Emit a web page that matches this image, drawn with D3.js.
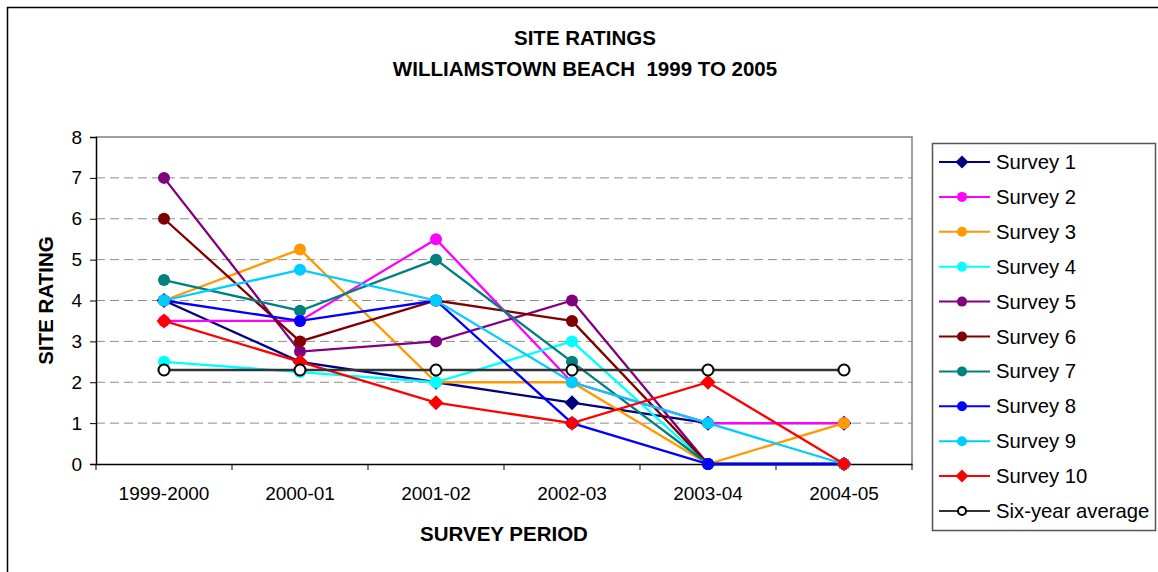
<!DOCTYPE html>
<html>
<head>
<meta charset="utf-8">
<script src="https://cdn.jsdelivr.net/npm/d3@7"></script>
<style>
  html, body { margin: 0; padding: 0; background: #fff; }
  svg { display: block; font-family: "Liberation Sans", Arial, sans-serif; }
</style>
</head>
<body>
<svg id="chart" width="1158" height="572"></svg>
<script>
// Survey periods along the x axis
const periods = ["1999-2000", "2000-01", "2001-02", "2002-03", "2003-04", "2004-05"];

// Site ratings per survey, one value per period
const survey1  = [4,   2.5,  2,   1.5, 1, 1];
const survey2  = [3.5, 3.5,  5.5, 2,   1, 1];
const survey3  = [4,   5.25, 2,   2,   0, 1];
const survey4  = [2.5, 2.25, 2,   3,   0, 0];
const survey5  = [7,   2.75, 3,   4,   0, 0];
const survey6  = [6,   3,    4,   3.5, 0, 0];
const survey7  = [4.5, 3.75, 5,   2.5, 0, 0];
const survey8  = [4,   3.5,  4,   1,   0, 0];
const survey9  = [4,   4.75, 4,   2,   1, 0];
const survey10 = [3.5, 2.5,  1.5, 1,   2, 0];
const sixYearAverage = [2.3, 2.3, 2.3, 2.3, 2.3, 2.3];

const seriesNames = ["Survey 1", "Survey 2", "Survey 3", "Survey 4", "Survey 5",
                     "Survey 6", "Survey 7", "Survey 8", "Survey 9", "Survey 10",
                     "Six-year average"];
const yTicks = [0, 1, 2, 3, 4, 5, 6, 7, 8];

// Styling per series: line colour, marker shape
const styles = [
  { color: "#000080", marker: "diamond" },
  { color: "#FF00FF", marker: "circle" },
  { color: "#FF9900", marker: "circle" },
  { color: "#00FFFF", marker: "circle" },
  { color: "#800080", marker: "circle" },
  { color: "#800000", marker: "circle" },
  { color: "#008080", marker: "circle" },
  { color: "#0000FF", marker: "circle" },
  { color: "#00CCFF", marker: "circle" },
  { color: "#FF0000", marker: "diamond" },
  { color: "#333333", marker: "open" }
];

const seriesValues = [survey1, survey2, survey3, survey4, survey5, survey6,
                      survey7, survey8, survey9, survey10, sixYearAverage];
const series = seriesNames.map((name, i) => ({ name, values: seriesValues[i], ...styles[i] }));

const svg = d3.select("#chart");

// Outer chart frame
svg.append("rect")
  .attr("x", 7.5).attr("y", 7.5).attr("width", 1160).attr("height", 580)
  .attr("fill", "#fff").attr("stroke", "#000").attr("stroke-width", 1.5);

const plot = { left: 96, right: 912, top: 137, bottom: 464 };

const x = d3.scaleBand().domain(periods).range([plot.left, plot.right]).padding(0);
const y = d3.scaleLinear().domain([0, 8]).range([plot.bottom, plot.top]);
const cx = d => x(d) + x.bandwidth() / 2;

// Horizontal dashed gridlines
svg.append("g")
  .selectAll("line")
  .data(yTicks.filter(t => t > 0 && t < 8))
  .join("line")
  .attr("x1", plot.left).attr("x2", plot.right)
  .attr("y1", d => y(d)).attr("y2", d => y(d))
  .attr("stroke", "#8c8c8c").attr("stroke-width", 1)
  .attr("stroke-dasharray", "9,5");

// Plot area frame, top and right edges
svg.append("path")
  .attr("d", `M${plot.left},${y(8)}H${plot.right}V${plot.bottom}`)
  .attr("fill", "none").attr("stroke", "#808080").attr("stroke-width", 1.5);

// Y axis
const yAxis = svg.append("g")
  .attr("transform", `translate(${plot.left},0)`)
  .call(d3.axisLeft(y).tickValues(yTicks).tickSize(6).tickPadding(8).tickFormat(d3.format("d")));
yAxis.select(".domain").attr("stroke", "#000").attr("stroke-width", 1.5);
yAxis.selectAll(".tick line").attr("stroke", "#000");
yAxis.selectAll("text").attr("font-size", 19).attr("fill", "#000")
  .attr("font-family", "'Liberation Sans', Arial, sans-serif");

// X axis: ticks at category boundaries
const xAxis = svg.append("g")
  .attr("transform", `translate(0,${plot.bottom})`)
  .call(d3.axisBottom(x).tickSize(0).tickPadding(0));
xAxis.select(".domain").attr("stroke", "#000").attr("stroke-width", 1.5);
xAxis.selectAll("text")
  .attr("y", 36)
  .attr("dy", 0)
  .attr("font-size", 19).attr("fill", "#000")
  .attr("font-family", "'Liberation Sans', Arial, sans-serif");
const boundaries = periods.map(p => x(p)).concat([plot.right]);
svg.append("g")
  .selectAll("line")
  .data(boundaries)
  .join("line")
  .attr("x1", d => d).attr("x2", d => d)
  .attr("y1", plot.bottom).attr("y2", plot.bottom + 6)
  .attr("stroke", "#000").attr("stroke-width", 1);

// Titles
svg.append("text")
  .attr("x", 585).attr("y", 45)
  .attr("text-anchor", "middle").attr("font-weight", "bold").attr("font-size", 20.5)
  .text("SITE RATINGS");
svg.append("text")
  .attr("x", 585).attr("y", 76)
  .attr("text-anchor", "middle").attr("font-weight", "bold").attr("font-size", 20.5)
  .attr("xml:space", "preserve")
  .style("white-space", "pre")
  .text("WILLIAMSTOWN BEACH  1999 TO 2005");
svg.append("text")
  .attr("x", (plot.left + plot.right) / 2).attr("y", 541)
  .attr("text-anchor", "middle").attr("font-weight", "bold").attr("font-size", 20.5)
  .text("SURVEY PERIOD");
svg.append("text")
  .attr("transform", `translate(53,${(plot.top + plot.bottom) / 2}) rotate(-90)`)
  .attr("text-anchor", "middle").attr("font-weight", "bold").attr("font-size", 20.5)
  .text("SITE RATING");

// Marker drawing helper
function drawMarker(g, style, px, py, size, openSize) {
  if (style.marker === "diamond") {
    const s = size + 1.5;
    g.append("path")
      .attr("d", `M${px},${py - s}L${px + s},${py}L${px},${py + s}L${px - s},${py}Z`)
      .attr("fill", style.color);
  } else if (style.marker === "circle") {
    g.append("circle").attr("cx", px).attr("cy", py).attr("r", size)
      .attr("fill", style.color);
  } else {
    g.append("circle").attr("cx", px).attr("cy", py).attr("r", openSize)
      .attr("fill", "#fff").attr("stroke", "#000").attr("stroke-width", 2);
  }
}

// Series lines and markers (later series drawn on top)
const line = d3.line().x((d, i) => cx(periods[i])).y(d => y(d));
series.forEach(s => {
  const g = svg.append("g");
  g.append("path")
    .attr("d", line(s.values))
    .attr("fill", "none").attr("stroke", s.color).attr("stroke-width", 2.3);
  s.values.forEach((v, i) => drawMarker(g, s, cx(periods[i]), y(v), 6, 5.5));
});

// Legend
const legend = svg.append("g");
legend.append("rect")
  .attr("x", 932.5).attr("y", 143.5).attr("width", 223).attr("height", 387)
  .attr("fill", "#fff").attr("stroke", "#555").attr("stroke-width", 1.5);
series.forEach((s, i) => {
  const ly = 162 + i * 34.9;
  const g = legend.append("g");
  g.append("line")
    .attr("x1", 939).attr("x2", 990).attr("y1", ly).attr("y2", ly)
    .attr("stroke", s.color).attr("stroke-width", 2);
  drawMarker(g, s, 962, ly, 5, 4);
  g.append("text")
    .attr("x", 996).attr("y", ly + 7)
    .attr("font-size", 20.3).attr("fill", "#000")
    .text(s.name);
});
</script>
</body>
</html>
